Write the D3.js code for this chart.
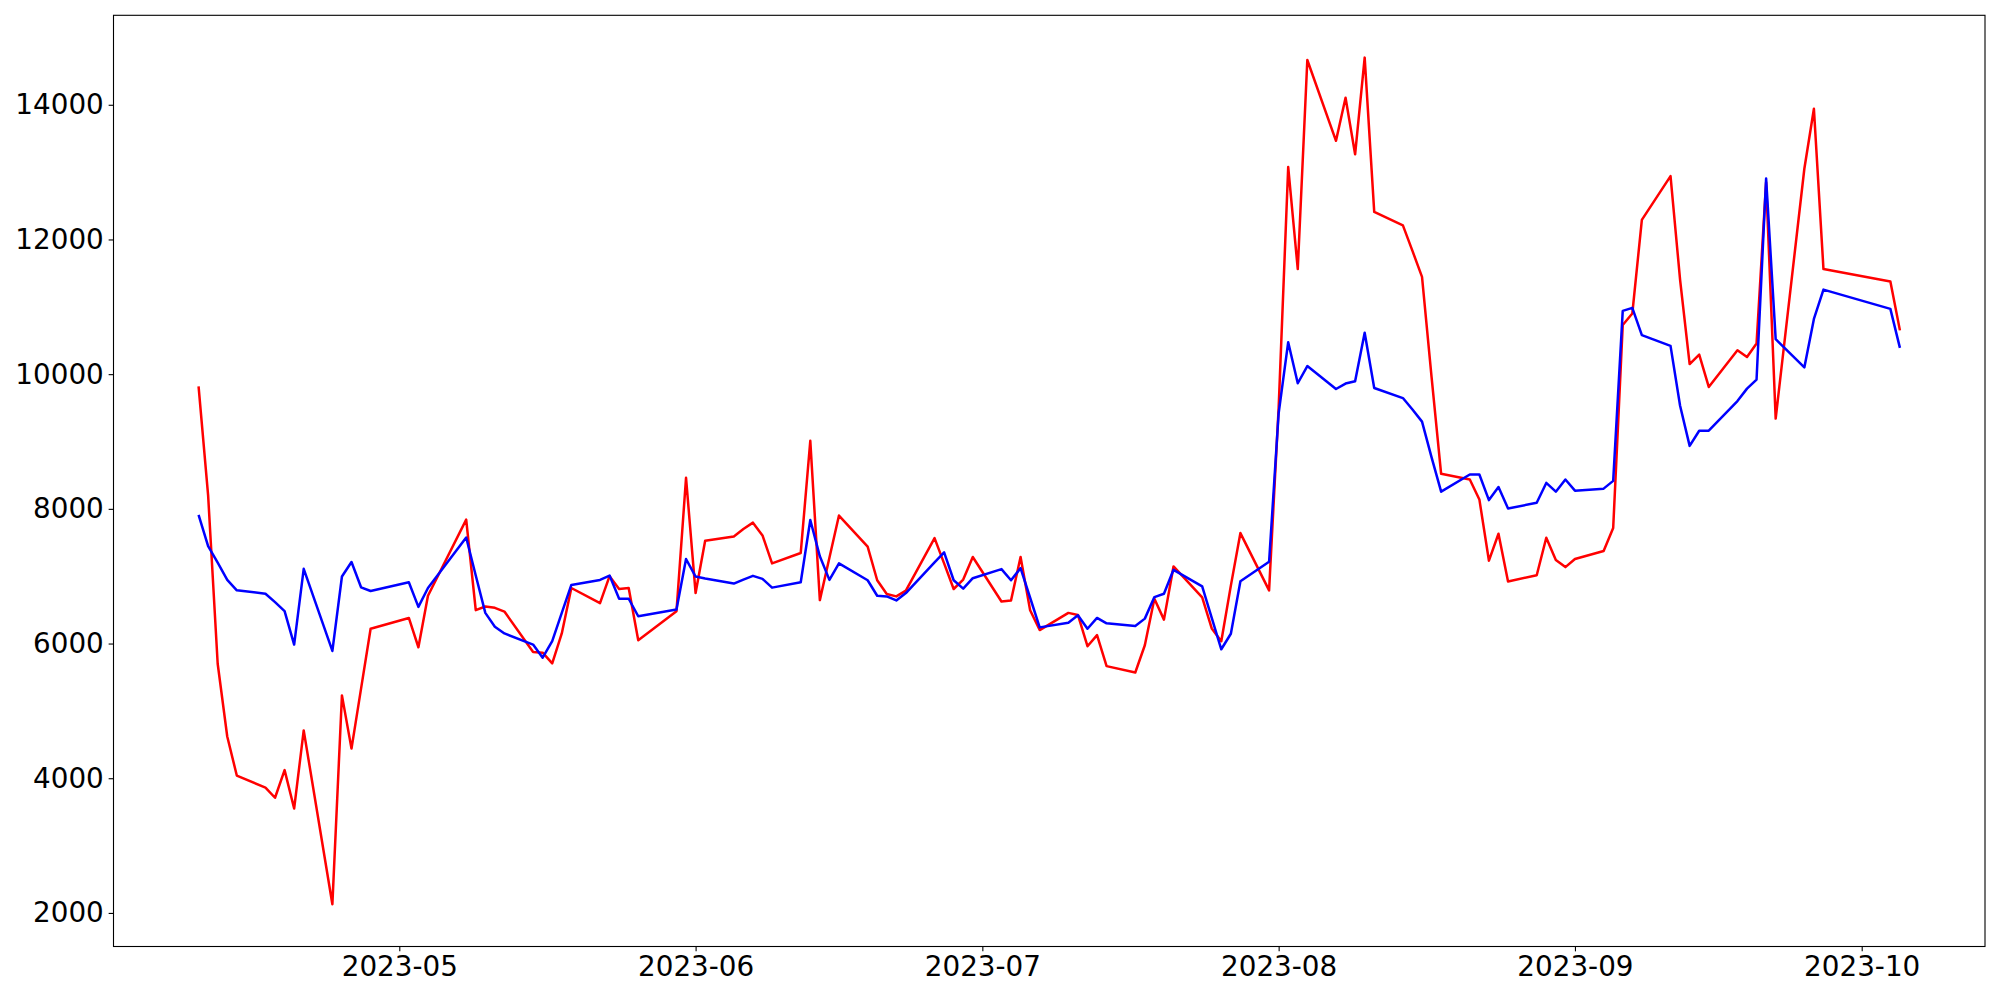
<!DOCTYPE html>
<html>
<head>
<meta charset="utf-8">
<script src="https://cdn.jsdelivr.net/npm/d3@7"></script>
<style>
    body { margin: 0; background: #fff; }
    svg { display: block; }
</style>
</head>
<body>
<div id="chart"></div>
<script>
// trading days
const dates = [
    '2023-04-10', '2023-04-11', '2023-04-12', '2023-04-13', '2023-04-14',
    '2023-04-17', '2023-04-18', '2023-04-19', '2023-04-20', '2023-04-21',
    '2023-04-24', '2023-04-25', '2023-04-26', '2023-04-27', '2023-04-28',
    '2023-05-02', '2023-05-03', '2023-05-04', '2023-05-08', '2023-05-09',
    '2023-05-10', '2023-05-11', '2023-05-12', '2023-05-15', '2023-05-16',
    '2023-05-17', '2023-05-18', '2023-05-19', '2023-05-22', '2023-05-23',
    '2023-05-24', '2023-05-25', '2023-05-26', '2023-05-30', '2023-05-31',
    '2023-06-01', '2023-06-02', '2023-06-05', '2023-06-06', '2023-06-07',
    '2023-06-08', '2023-06-09', '2023-06-12', '2023-06-13', '2023-06-14',
    '2023-06-15', '2023-06-16', '2023-06-19', '2023-06-20', '2023-06-21',
    '2023-06-22', '2023-06-23', '2023-06-26', '2023-06-27', '2023-06-28',
    '2023-06-29', '2023-06-30', '2023-07-03', '2023-07-04', '2023-07-05',
    '2023-07-06', '2023-07-07', '2023-07-10', '2023-07-11', '2023-07-12',
    '2023-07-13', '2023-07-14', '2023-07-17', '2023-07-18', '2023-07-19',
    '2023-07-20', '2023-07-21', '2023-07-24', '2023-07-25', '2023-07-26',
    '2023-07-27', '2023-07-28', '2023-07-31', '2023-08-01', '2023-08-02',
    '2023-08-03', '2023-08-04', '2023-08-07', '2023-08-08', '2023-08-09',
    '2023-08-10', '2023-08-11', '2023-08-14', '2023-08-15', '2023-08-16',
    '2023-08-17', '2023-08-18', '2023-08-21', '2023-08-22', '2023-08-23',
    '2023-08-24', '2023-08-25', '2023-08-28', '2023-08-29', '2023-08-30',
    '2023-08-31', '2023-09-01', '2023-09-04', '2023-09-05', '2023-09-06',
    '2023-09-07', '2023-09-08', '2023-09-11', '2023-09-12', '2023-09-13',
    '2023-09-14', '2023-09-15', '2023-09-18', '2023-09-19', '2023-09-20',
    '2023-09-21', '2023-09-22', '2023-09-25', '2023-09-26', '2023-09-27',
    '2023-10-04', '2023-10-05'
];

const redValues = [
    9820, 8200, 5700, 4620, 4040,
    3860, 3710, 4120, 3550, 4710,
    2130, 5230, 4440, 5330, 6220,
    6380, 5945, 6710, 7840, 6495,
    6550, 6530, 6475, 5875, 5865,
    5705, 6150, 6825, 6600, 7000,
    6810, 6825, 6050, 6480, 8460,
    6750, 7525, 7590, 7700, 7795,
    7605, 7190, 7345, 9010, 6645,
    7275, 7900, 7440, 6940, 6735,
    6700, 6785, 7565, 7190, 6810,
    6950, 7285, 6625, 6640, 7285,
    6495, 6200, 6455, 6425, 5960,
    6125, 5665, 5570, 5975, 6665,
    6355, 7145, 6685, 6225, 6035,
    6860, 7640, 6790, 9500, 13075,
    11560, 14665, 13465, 14105, 13265,
    14700, 12410, 12210, 11830, 11445,
    9955, 8520, 8435, 8140, 7230,
    7630, 6920, 7015, 7570, 7240,
    7135, 7255, 7375, 7715, 10730,
    10900, 12290, 12940, 11400, 10150,
    10290, 9810, 10355, 10255, 10455,
    12850, 9340, 13050, 13940, 11560,
    11375, 10650
];

const blueValues = [
    7910, 7445, 7200, 6945, 6790,
    6740, 6615, 6480, 5985, 7110,
    5890, 6995, 7210, 6835, 6780,
    6910, 6545, 6825, 7575, 7010,
    6455, 6250, 6150, 5985, 5790,
    6035, 6455, 6870, 6945, 7010,
    6665, 6665, 6405, 6505, 7255,
    6995, 6965, 6890, 6950, 7005,
    6960, 6830, 6910, 7835, 7295,
    6945, 7190, 6940, 6710, 6700,
    6640, 6750, 7205, 7355, 6940,
    6815, 6970, 7105, 6940, 7120,
    6680, 6240, 6310, 6420, 6220,
    6380, 6300, 6260, 6370, 6690,
    6740, 7095, 6850, 6380, 5915,
    6145, 6925, 7215, 9420, 10475,
    9865, 10120, 9780, 9860, 9895,
    10615, 9795, 9645, 9475, 9295,
    8765, 8255, 8510, 8510, 8130,
    8325, 8005, 8090, 8385, 8255,
    8435, 8270, 8300, 8415, 10940,
    10985, 10580, 10420, 9530, 8935,
    9160, 9160, 9600, 9785, 9920,
    12905, 10520, 10100, 10820, 11255,
    10970, 10390
];

const yTicks = [2000, 4000, 6000, 8000, 10000, 12000, 14000];
const xTicks = ['2023-05-01', '2023-06-01', '2023-07-01', '2023-08-01', '2023-09-01', '2023-10-01'];

const parseDate = d3.timeParse('%Y-%m-%d');

const createLineChart = () => {
    const width = 2000;
    const height = 1000;
    const margin = {top: 15.3, right: 15, bottom: 53.5, left: 113.5};
    const fontSize = 27.8;

    const series = [
        {color: '#ff0000', values: redValues},
        {color: '#0000ff', values: blueValues}
    ];
    const parsedDates = dates.map(parseDate);

    const svg = d3.select('#chart')
        .append('svg')
            .attr('viewBox', [0, 0, width, height])
            .attr('width', width)
            .attr('height', height);

    // matplotlib style 5% padding on both axes
    const xExtent = d3.extent(parsedDates);
    const xPad = (xExtent[1] - xExtent[0]) * 0.05;
    const xScale = d3.scaleTime()
        .domain([new Date(+xExtent[0] - xPad), new Date(+xExtent[1] + xPad)])
        .range([margin.left, width - margin.right]);

    const allValues = redValues.concat(blueValues);
    const yMin = d3.min(allValues);
    const yMax = d3.max(allValues);
    const yPad = (yMax - yMin) * 0.05;
    const yScale = d3.scaleLinear()
        .domain([yMin - yPad, yMax + yPad])
        .range([height - margin.bottom, margin.top]);

    // lines
    const line = d3.line()
        .x((d, i) => xScale(parsedDates[i]))
        .y(d => yScale(d));

    svg.append('g')
        .attr('class', 'lines-group')
        .selectAll('path')
        .data(series)
        .join('path')
            .attr('d', d => line(d.values))
            .attr('fill', 'none')
            .attr('stroke', d => d.color)
            .attr('stroke-width', 2.5)
            .attr('stroke-linejoin', 'round');

    // x axis
    const xAxis = svg.append('g')
        .attr('transform', `translate(0, ${height - margin.bottom})`)
        .call(d3.axisBottom(xScale)
            .tickValues(xTicks.map(parseDate))
            .tickFormat(d3.timeFormat('%Y-%m'))
            .tickSize(4.86)
            .tickPadding(4.86));

    // y axis
    const yAxis = svg.append('g')
        .attr('transform', `translate(${margin.left}, 0)`)
        .call(d3.axisLeft(yScale)
            .tickValues(yTicks)
            .tickFormat(d3.format('d'))
            .tickSize(4.86)
            .tickPadding(4.86));

    [xAxis, yAxis].forEach(axis => {
        axis.select('.domain').remove();
        axis.selectAll('line')
            .attr('stroke', '#000')
            .attr('stroke-width', 1.1);
        axis.selectAll('text')
            .attr('fill', '#000')
            .style('font-family', '"DejaVu Sans", sans-serif')
            .style('font-size', `${fontSize}px`);
    });

    // frame around the plot area
    svg.append('rect')
        .attr('x', margin.left)
        .attr('y', margin.top)
        .attr('width', width - margin.left - margin.right)
        .attr('height', height - margin.top - margin.bottom)
        .attr('fill', 'none')
        .attr('stroke', '#000')
        .attr('stroke-width', 1.1);
};

createLineChart();
</script>
</body>
</html>
